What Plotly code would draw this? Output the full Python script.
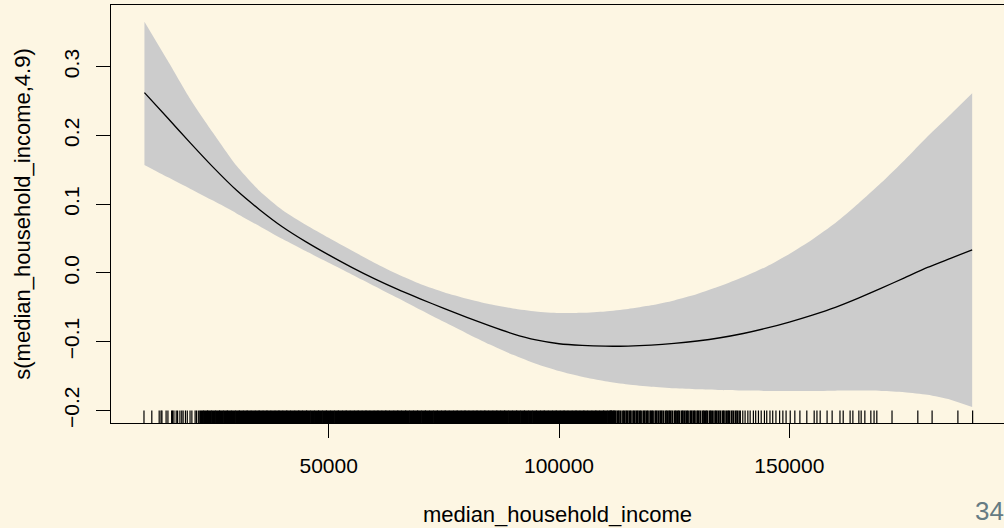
import plotly.graph_objects as go

# Estimated smooth term s(median_household_income, 4.9) with 2-SE band
income = [10000, 15000, 20000, 25000, 30000, 35000, 40000, 45000, 50000, 55000,
          60000, 65000, 70000, 75000, 80000, 85000, 90000, 95000, 100000, 105000,
          110000, 115000, 120000, 125000, 130000, 135000, 140000, 145000, 150000, 155000,
          160000, 165000, 170000, 175000, 180000, 185000, 189700]
fit = [0.2622, 0.2257, 0.1888, 0.1531, 0.1201, 0.0920, 0.0668, 0.0455, 0.0262, 0.0081,
       -0.0087, -0.0240, -0.0380, -0.0516, -0.0646, -0.0771, -0.0886, -0.0975, -0.1030, -0.1055,
       -0.1066, -0.1064, -0.1050, -0.1025, -0.0990, -0.0943, -0.0881, -0.0804, -0.0714, -0.0613,
       -0.0500, -0.0366, -0.0222, -0.0071, 0.0080, 0.0212, 0.0336]
upper = [0.3654, 0.3092, 0.2523, 0.2028, 0.1558, 0.1190, 0.0910, 0.0700, 0.0510, 0.0325,
         0.0145, -0.0020, -0.0165, -0.0280, -0.0375, -0.0455, -0.0517, -0.0560, -0.0583, -0.0580,
         -0.0560, -0.0525, -0.0472, -0.0400, -0.0307, -0.0192, -0.0061, 0.0090, 0.0275, 0.0486,
         0.0725, 0.1009, 0.1314, 0.1640, 0.1985, 0.2305, 0.2613]
lower = [0.1571, 0.1395, 0.1222, 0.1048, 0.0866, 0.0680, 0.0492, 0.0318, 0.0148, -0.0022,
         -0.0193, -0.0366, -0.0541, -0.0712, -0.0880, -0.1042, -0.1192, -0.1322, -0.1428, -0.1512,
         -0.1577, -0.1624, -0.1656, -0.1678, -0.1693, -0.1704, -0.1712, -0.1717, -0.1719, -0.1717,
         -0.1713, -0.1712, -0.1717, -0.1735, -0.1773, -0.1843, -0.1951]

# Observed incomes (thousands of dollars) shown as a rug
rug_left = [9.9, 11.6, 13.2, 13.6, 13.8, 14.7, 15.1, 15.9, 16.1, 16.4, 16.9, 17.2, 17.7,
            18.1, 18.4, 18.9, 19.3, 19.9, 20.3, 21.0, 21.3, 21.7]
rug_core = [22.4, 23.3, 24.1, 25.0, 25.9, 26.7, 27.6, 28.4, 29.3, 30.2, 31.0, 31.9, 32.7,
            33.6, 34.5, 35.3, 36.2, 37.0, 37.9, 38.8, 39.6, 40.5, 41.3, 42.2, 43.1, 43.9,
            44.8, 45.6, 46.5, 47.4, 48.2, 49.1, 49.9, 50.8, 51.7, 52.5, 53.4, 54.2, 55.1,
            56.0, 56.8, 57.7, 58.5, 59.4, 60.3, 61.1, 62.0, 62.8, 63.7, 64.6, 65.4, 66.3,
            67.1, 68.0, 68.9, 69.7, 70.6, 71.4, 72.3, 73.2, 74.0, 74.9, 75.7, 76.6, 77.5,
            78.3, 79.2, 80.0, 80.9, 81.8, 82.6, 83.5, 84.3, 85.2, 86.1, 86.9, 87.8, 88.6,
            89.5, 90.4, 91.2, 92.1, 92.9, 93.8, 94.7, 95.5, 96.4, 97.2, 98.1, 99.0, 99.8,
            100.7, 101.5, 102.4, 103.3, 104.1, 105.0, 105.8, 106.7, 107.6, 108.4, 109.3,
            110.1, 111.0, 111.5]
rug_busy = [112.0, 112.3, 112.7, 113.0, 113.4, 113.9, 114.2, 114.6, 114.9, 115.3, 115.6,
            116.1, 116.4, 116.8, 117.1, 117.5, 117.8, 118.3, 118.6, 119.0, 119.3, 119.8,
            120.1, 120.4, 120.9, 121.2, 121.6, 122.0, 122.3, 122.7, 123.2, 123.5, 123.9,
            124.2, 124.6, 125.1, 125.4, 125.8, 126.1, 126.6, 126.9, 127.3, 127.7, 128.0,
            128.5, 128.8, 129.2, 129.5, 130.0, 130.3, 130.7, 131.2, 131.5, 131.9, 132.2,
            132.7, 133.0, 133.4, 133.9, 134.2, 134.6, 135.0, 135.5, 135.8, 136.3, 136.7,
            137.0, 137.5, 137.9, 138.4, 138.8, 139.3]
rug_tail = [139.9, 140.4, 141.0, 141.5, 142.2, 142.7, 143.3, 143.9, 144.6, 145.1, 145.8,
            146.4, 147.1, 147.9, 148.6, 149.3, 150.2, 151.2, 152.3, 153.8, 155.4, 156.0,
            156.7, 158.2, 159.3, 161.0, 161.7, 163.2, 163.8, 165.1, 165.6, 166.4, 167.7,
            168.4, 169.0, 172.3, 177.9, 181.0, 186.6, 189.8]

x_ticks = [50000, 100000, 150000]
x_tick_text = ["50000", "100000", "150000"]
y_ticks = [-0.2, -0.1, 0.0, 0.1, 0.2, 0.3]
y_tick_text = ["\u22120.2", "\u22120.1", "0.0", "0.1", "0.2", "0.3"]
page_number = "34"

X_RANGE = [2740, 196610]
Y_RANGE = [-0.2183, 0.3897]
BG = "#FDF6E3"
FONT = "Liberation Sans, Arial, Helvetica, sans-serif"

rug_h = 0.03 * (Y_RANGE[1] - Y_RANGE[0])


def rug_segments(values_k):
    xs, ys = [], []
    for v in values_k:
        xs += [v * 1000, v * 1000, None]
        ys += [Y_RANGE[0], Y_RANGE[0] + rug_h, None]
    return xs, ys


fig = go.Figure()

# confidence band
fig.add_trace(go.Scatter(x=income, y=upper, mode="lines",
                         line=dict(width=0, shape="spline", smoothing=0.6),
                         hoverinfo="skip", showlegend=False))
fig.add_trace(go.Scatter(x=income, y=lower, mode="lines",
                         line=dict(width=0, shape="spline", smoothing=0.6),
                         fill="tonexty", fillcolor="#CCCCCC", hoverinfo="skip", showlegend=False))
# fitted smooth
fig.add_trace(go.Scatter(x=income, y=fit, mode="lines",
                         line=dict(color="black", width=1.3, shape="spline", smoothing=0.6),
                         showlegend=False))

# rug
for vals, w in [(rug_left, 1.2), (rug_core, 4.8), (rug_busy, 1.9), (rug_tail, 1.2)]:
    xs, ys = rug_segments(vals)
    fig.add_trace(go.Scatter(x=xs, y=ys, mode="lines", line=dict(color="black", width=w),
                             hoverinfo="skip", showlegend=False))

fig.update_layout(
    width=1004, height=528,
    margin=dict(l=111, r=0, t=5, b=105),
    paper_bgcolor=BG, plot_bgcolor=BG,
    font=dict(family=FONT, size=21, color="black"),
    xaxis=dict(range=X_RANGE, tickvals=x_ticks, ticktext=x_tick_text,
               showgrid=False, zeroline=False, showline=True, mirror=True,
               linecolor="black", linewidth=1.3, ticks="outside", ticklen=14,
               tickwidth=1.3, tickcolor="black", ticklabelstandoff=10,
               tickfont=dict(size=21),
               title=dict(text="median_household_income", standoff=30,
                          font=dict(size=22))),
    yaxis=dict(range=Y_RANGE, tickvals=y_ticks, ticktext=y_tick_text,
               showgrid=False, zeroline=False, showline=True, mirror=False,
               linecolor="black", linewidth=1.3, ticks="outside", ticklen=14,
               tickwidth=1.3, tickcolor="black", tickangle=-90, ticklabelstandoff=8,
               tickfont=dict(size=21),
               title=dict(text="s(median_household_income,4.9)", standoff=23,
                          font=dict(size=22))),
    annotations=[dict(text=page_number, xref="paper", yref="paper", x=1.0, y=-0.2512,
                      xanchor="right", yanchor="bottom", showarrow=False, xshift=2,
                      font=dict(size=26, color="#657B83"))],
)

fig.write_html("out.html")
